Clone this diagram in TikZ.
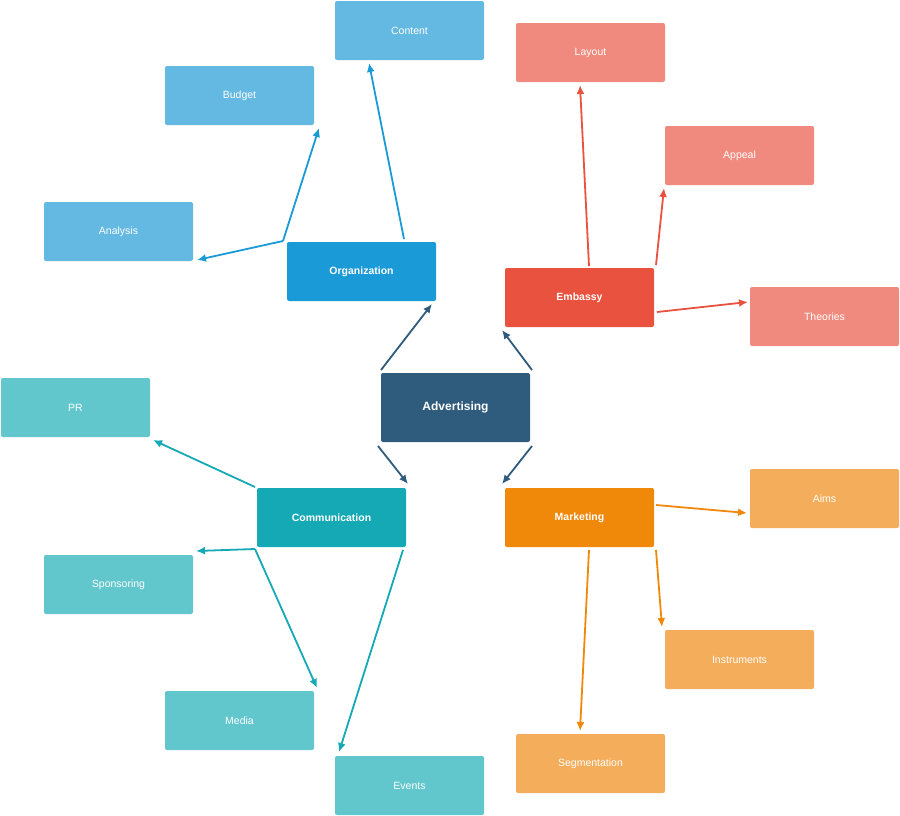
\documentclass[tikz,border=0pt]{standalone}
\usepackage{fontspec}
\setmainfont{Liberation Sans}
\usetikzlibrary{arrows.meta}
\definecolor{cblue}{HTML}{1A9AD6}\definecolor{lblue}{HTML}{63B9E2}
\definecolor{cred}{HTML}{E8523F}\definecolor{lred}{HTML}{F08A7E}
\definecolor{cteal}{HTML}{14A9B5}\definecolor{lteal}{HTML}{62C7CD}
\definecolor{corange}{HTML}{F0880A}\definecolor{lorange}{HTML}{F4AD5B}
\definecolor{cdark}{HTML}{2F5C7D}
\begin{document}
\begin{tikzpicture}[x=1pt,y=-1pt,
 box/.style={rounded corners=2pt,minimum width=149pt,minimum height=59pt,text=white,font=\fontsize{10.5}{12}\selectfont,inner sep=0pt},
 main/.style={box,font=\bfseries\fontsize{10.5}{12}\selectfont},
 arr/.style={line width=1.8pt,-{Latex[length=9pt,width=8pt]}}]
\useasboundingbox (0,0) rectangle (900,815);
\node[main,fill=cdark,minimum height=69pt,font=\bfseries\fontsize{12}{14}\selectfont] (adv) at (455.5,407.5) {Advertising};
\node[main,fill=cblue] (org) at (361.5,271.5) {Organization};
\node[main,fill=cred] (emb) at (579.5,297.5) {Embassy};
\node[main,fill=cteal] (com) at (331.5,517.5) {Communication};
\node[main,fill=corange] (mar) at (579.5,517.5) {Marketing};
\node[box,fill=lblue] (content) at (409.5,30.5) {Content};
\node[box,fill=lblue] (budget) at (239.5,95.5) {Budget};
\node[box,fill=lblue] (analysis) at (118.5,231.5) {Analysis};
\node[box,fill=lred] (layout) at (590.5,52.5) {Layout};
\node[box,fill=lred] (appeal) at (739.5,155.5) {Appeal};
\node[box,fill=lred] (theories) at (824.5,316.5) {Theories};
\node[box,fill=lteal] (pr) at (75.5,407.5) {PR};
\node[box,fill=lteal] (spons) at (118.5,584.5) {Sponsoring};
\node[box,fill=lteal] (media) at (239.5,720.5) {Media};
\node[box,fill=lteal] (events) at (409.5,785.5) {Events};
\node[box,fill=lorange] (aims) at (824.5,498.5) {Aims};
\node[box,fill=lorange] (instr) at (739.5,659.5) {Instruments};
\node[box,fill=lorange] (seg) at (590.5,763.5) {Segmentation};
% coordinates
\coordinate (a1) at (381,370);\coordinate (a1e) at (432,304);
\coordinate (a2) at (532,370);\coordinate (a2e) at (502,330);
\coordinate (a3) at (378,446);\coordinate (a3e) at (408,484);
\coordinate (a4) at (532,446);\coordinate (a4e) at (502,484);
\coordinate (o1) at (283,241);\coordinate (o2) at (404,239);
\coordinate (e1) at (589,266);\coordinate (e2) at (656,265);\coordinate (e3) at (657,312);
\coordinate (c1) at (255,487);\coordinate (c2) at (255,549);\coordinate (c3) at (403,550);
\coordinate (m1) at (656,505);\coordinate (m2) at (656,550);\coordinate (m3) at (589,550);
\draw[arr,cdark] (a1)--(a1e);\draw[arr,cdark] (a2)--(a2e);
\draw[arr,cdark] (a3)--(a3e);\draw[arr,cdark] (a4)--(a4e);
\draw[arr,cblue] (o1)--(197,260);\draw[arr,cblue] (o1)--(319,128);\draw[arr,cblue] (o2)--(369,63);
\draw[arr,cred] (e1)--(580,85);\draw[arr,cred] (e2)--(664,188);\draw[arr,cred] (e3)--(748,302);
\draw[arr,cteal] (c1)--(153,440);\draw[arr,cteal] (c2)--(196,551);\draw[arr,cteal] (c2)--(317,688);\draw[arr,cteal] (c3)--(339,752);
\draw[arr,corange] (m1)--(747,513);\draw[arr,corange] (m2)--(662,627);\draw[arr,corange] (m3)--(580,731);
\end{tikzpicture}
\end{document}
